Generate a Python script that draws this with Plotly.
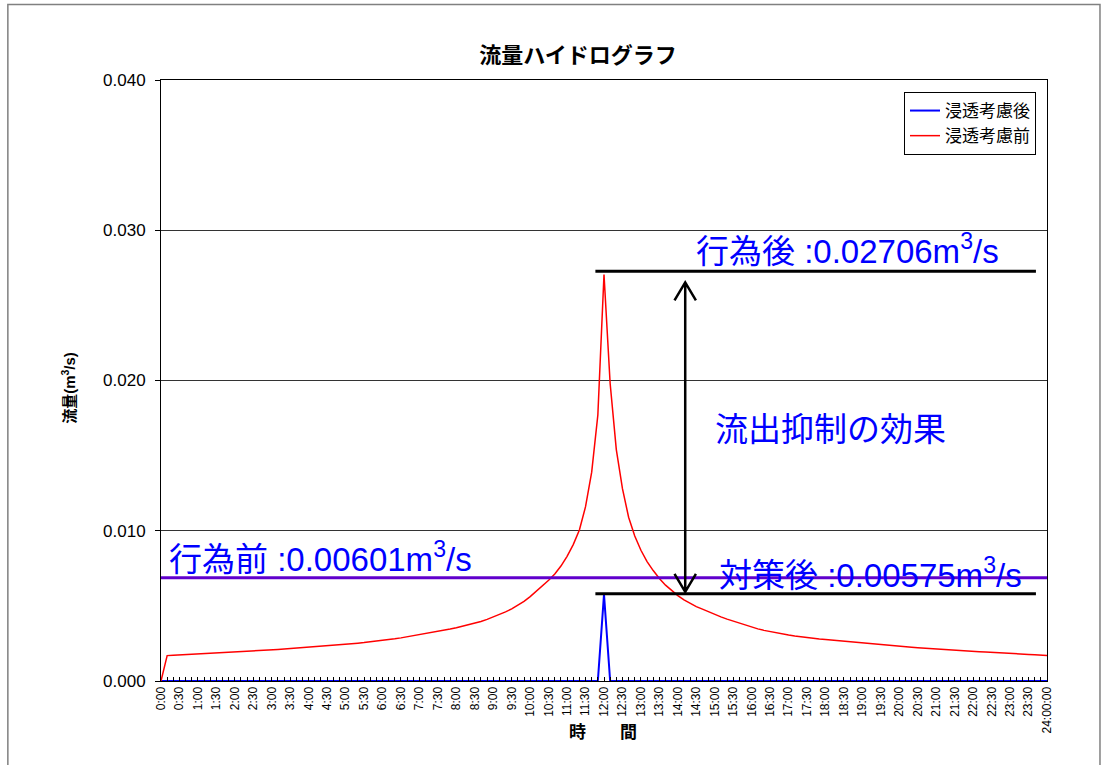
import plotly.graph_objects as go

# ---- data -----------------------------------------------------------------
# 10-minute steps from 0:00 to 24:00 (145 points)
times = [f"{m // 60}:{m % 60:02d}" for m in range(0, 1440, 10)] + ["24:00:00"]
tick_labels = [t if i % 3 == 0 else "" for i, t in enumerate(times)]

# 浸透考慮前 (before infiltration)
before_left = [
    0.0,
    0.00169, 0.00172, 0.00174, 0.00176, 0.00178, 0.00180, 0.00183, 0.00185, 0.00187, 0.00189,
    0.00191, 0.00194, 0.00196, 0.00198, 0.00200, 0.00203, 0.00205, 0.00208, 0.00210, 0.00213,
    0.00216, 0.00218, 0.00221, 0.00224, 0.00227, 0.00230, 0.00234, 0.00237, 0.00240, 0.00244,
    0.00248, 0.00252, 0.00256, 0.00260, 0.00265, 0.00269, 0.00275, 0.00281, 0.00287, 0.00294,
    0.00300, 0.00307, 0.00314, 0.00322, 0.00330, 0.00338, 0.00346, 0.00355, 0.00364, 0.00374,
    0.00385, 0.00396, 0.00410, 0.00425, 0.00442, 0.00460, 0.00480, 0.00503, 0.00530, 0.00562,
    0.00596, 0.00632, 0.00670, 0.00712, 0.00765, 0.00830, 0.00908, 0.01005, 0.01160, 0.01390,
    0.01770,
]
peak_before = 0.02706
before_right = [
    0.01980, 0.01540, 0.01280, 0.01090, 0.00965, 0.00870, 0.00795, 0.00735, 0.00682, 0.00638,
    0.00600, 0.00568, 0.00540, 0.00515, 0.00495, 0.00478, 0.00460, 0.00443, 0.00427, 0.00412,
    0.00398, 0.00385, 0.00372, 0.00358, 0.00347, 0.00337, 0.00328, 0.00320, 0.00313, 0.00306,
    0.00300, 0.00294, 0.00289, 0.00284, 0.00280, 0.00276, 0.00272, 0.00267, 0.00263, 0.00259,
    0.00255, 0.00251, 0.00247, 0.00243, 0.00240, 0.00236, 0.00233, 0.00230, 0.00227, 0.00224,
    0.00221, 0.00218, 0.00215, 0.00212, 0.00210, 0.00207, 0.00205, 0.00202, 0.00200, 0.00197,
    0.00195, 0.00193, 0.00190, 0.00188, 0.00186, 0.00184, 0.00181, 0.00179, 0.00177, 0.00175,
    0.00172, 0.00169,
]
flow_before = before_left + [peak_before] + before_right

# 浸透考慮後 (after infiltration): only a spike at 12:00
peak_after = 0.00575
flow_after = [peak_after if t == "12:00" else 0.0 for t in times]

# reference levels drawn as lines
level_top = 0.02727
level_bottom = 0.0058
level_purple = 0.00687
guide_x0, guide_x1 = 70.6, 142.2
arrow_x, arrow_top, arrow_bot = 85.2, 0.02653, 0.00593

# ---- figure ---------------------------------------------------------------
JP = "Noto Sans CJK JP"
LAT = "Liberation Sans, Arial, Noto Sans CJK JP"

# plot-area geometry in pixels (used for paper-coordinate placement)
PL, PR, PT, PB = 160.7, 1047.0, 80.0, 681.0
PW, PH = PR - PL, PB - PT


def px(x):
    return (x - PL) / PW


def py(y):
    return (PB - y) / PH


fig = go.Figure()
fig.add_trace(go.Scatter(x=times, y=flow_after, mode="lines", name="浸透考慮後",
                         line=dict(color="#0000FF", width=2)))
fig.add_trace(go.Scatter(x=times, y=flow_before, mode="lines", name="浸透考慮前",
                         line=dict(color="#FF0000", width=1.5)))

shapes = []
for y in (level_top, level_bottom):
    shapes.append(dict(type="line", xref="x", yref="y", x0=guide_x0, x1=guide_x1, y0=y, y1=y,
                       line=dict(color="black", width=3)))
shapes.append(dict(type="line", xref="paper", yref="y", x0=0, x1=1, y0=level_purple, y1=level_purple,
                   line=dict(color="#6000CC", width=3)))
hx, hy = 1.74, 0.0012
path = (f"M {arrow_x},{arrow_top} L {arrow_x},{arrow_bot} "
        f"M {arrow_x - hx},{arrow_top - hy} L {arrow_x},{arrow_top} L {arrow_x + hx},{arrow_top - hy} "
        f"M {arrow_x - hx},{arrow_bot + hy} L {arrow_x},{arrow_bot} L {arrow_x + hx},{arrow_bot + hy}")
shapes.append(dict(type="path", xref="x", yref="y", path=path, line=dict(color="black", width=2.5)))
# outer chart border
shapes.append(dict(type="rect", xref="paper", yref="paper",
                   x0=px(7.5), x1=px(1100), y0=py(772), y1=py(4.5),
                   line=dict(color="#808080", width=1.5)))

ann_font = dict(family=LAT, size=33, color="#0000FF")
annotations = [
    dict(text="行為後 :0.02706m<sup>3</sup>/s", x=px(694), y=py(249)),
    dict(text="流出抑制の効果", x=px(713), y=py(430)),
    dict(text="行為前 :0.00601m<sup>3</sup>/s", x=px(167), y=py(557)),
    dict(text="対策後 :0.00575m<sup>3</sup>/s", x=px(717), y=py(573)),
]
annotations = [dict(a, xref="paper", yref="paper", xanchor="left", yanchor="middle",
                    showarrow=False, font=ann_font) for a in annotations]
annotations.append(dict(text="<b>流量(m<sup>3</sup>/s)</b>", xref="paper", yref="paper",
                        x=px(56), y=py(388), textangle=-90, showarrow=False,
                        font=dict(family=LAT, size=15, color="black")))
annotations.append(dict(text="<b>時　　間</b>", xref="paper", yref="paper",
                        x=px(603), y=py(745), showarrow=False,
                        font=dict(family=JP, size=17, color="black")))

fig.update_layout(
    width=1106, height=765,
    margin=dict(l=PL, r=1106 - PR, t=PT, b=765 - PB),
    paper_bgcolor="white", plot_bgcolor="white",
    title=dict(text="<b>流量ハイドログラフ</b>", x=578 / 1106,
               xanchor="center", y=1 - 55 / 765, yanchor="middle",
               font=dict(family=JP, size=22, color="black")),
    showlegend=True,
    legend=dict(x=px(1036), y=py(92), xanchor="right", yanchor="top",
                bgcolor="white", bordercolor="black", borderwidth=1,
                font=dict(family=JP, size=17, color="black"),
                itemwidth=30),
    shapes=shapes,
    annotations=annotations,
)
fig.update_xaxes(type="category", range=[0, len(times) - 1],
                 tickmode="array", tickvals=times, ticktext=tick_labels,
                 tickangle=-90, ticks="inside", ticklen=4, tickcolor="black",
                 tickfont=dict(family=LAT, size=12, color="black"),
                 showgrid=False, showline=True, linecolor="black", linewidth=1, mirror=True)
fig.update_yaxes(range=[0, 0.04], dtick=0.01, tickformat=".3f",
                 ticks="outside", ticklen=5, tickcolor="black", ticklabelstandoff=6,
                 tickfont=dict(family=LAT, size=17, color="black"),
                 showgrid=True, gridcolor="#333333", gridwidth=1, zeroline=False,
                 showline=True, linecolor="black", linewidth=1, mirror=True)

fig.write_html("out.html", config={"displayModeBar": False},
               post_script="document.body.style.margin='0px';")
